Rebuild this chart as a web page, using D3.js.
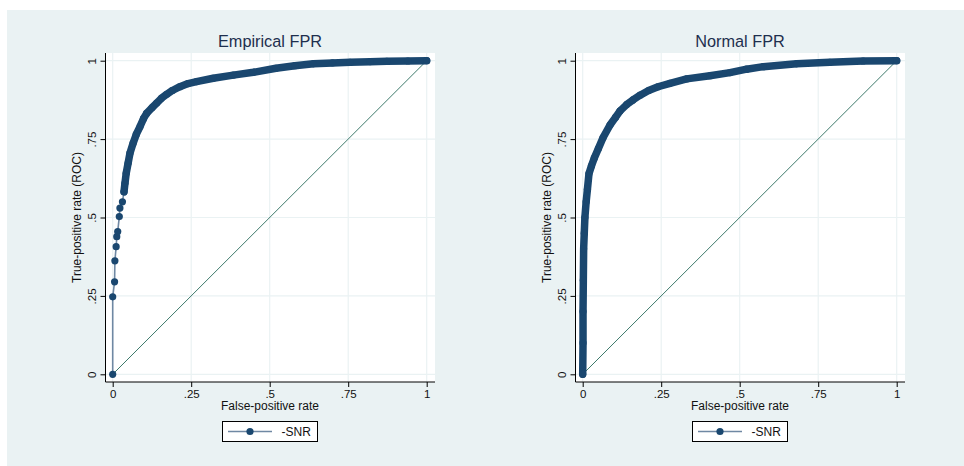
<!DOCTYPE html>
<html><head><meta charset="utf-8">
<script src="https://cdn.jsdelivr.net/npm/d3@7"></script>
<style>html,body{margin:0;padding:0;background:#fff;}svg{display:block;}</style>
</head><body>
<svg id="chart" width="964" height="466"></svg>
<script>
// ---- data ----
const panelTitles = ["Empirical FPR", "Normal FPR"];
const tickValues = [0, 0.25, 0.5, 0.75, 1];
const tickLabels = ["0", ".25", ".5", ".75", "1"];
const xTitle = "False-positive rate";
const yTitle = "True-positive rate (ROC)";
const seriesName = "-SNR";

const empiricalFPR = [0,0,0.006,0.007,0.011,0.013,0.016,0.021,0.023,0.031,0.036,0.039,0.043,0.049,0.055,0.065,0.075,0.087,0.098,0.108,0.125,0.14,0.155,0.172,0.19,0.214,0.24,0.267,0.32,0.384,0.448,0.52,0.58,0.639,0.7,0.756,0.82,0.873,0.94,1];
const empiricalTPR = [0,0.247,0.295,0.362,0.407,0.439,0.455,0.503,0.53,0.55,0.582,0.609,0.641,0.673,0.705,0.737,0.765,0.79,0.815,0.832,0.85,0.865,0.88,0.893,0.905,0.917,0.927,0.933,0.944,0.954,0.963,0.976,0.984,0.99,0.993,0.995,0.997,0.998,0.999,1];

const normalFPR = [0,0.001,0.001,0.002,0.003,0.005,0.007,0.011,0.015,0.02,0.028,0.037,0.05,0.065,0.087,0.105,0.119,0.14,0.16,0.183,0.21,0.24,0.278,0.331,0.405,0.469,0.522,0.575,0.681,0.787,0.893,1];
const normalTPR = [0,0.1,0.2,0.3,0.4,0.45,0.5,0.55,0.59,0.64,0.665,0.69,0.72,0.755,0.795,0.82,0.84,0.86,0.875,0.89,0.905,0.917,0.928,0.942,0.952,0.962,0.973,0.981,0.99,0.995,0.999,1];

// ---- style / layout ----
const navy = "#1a476f";
const bg = "#eaf2f3";
const font = "'Liberation Sans', Arial, sans-serif";
const panels = [
  {fpr: empiricalFPR, tpr: empiricalTPR, ox: 0, bandFrom: 0.58},
  {fpr: normalFPR, tpr: normalTPR, ox: 470, bandFrom: 0}
];

const svg = d3.select("#chart");
svg.append("rect").attr("x",7).attr("y",10).attr("width",957).attr("height",456).attr("fill",bg);

panels.forEach((p, i) => {
  const g = svg.append("g").attr("transform", `translate(${p.ox},0)`);
  const x = d3.scaleLinear().domain([0,1]).range([112.7, 426.7]);
  const y = d3.scaleLinear().domain([0,1]).range([374.3, 60.7]);
  const L = 105.5, R = 435, T = 53, B = 382;

  g.append("rect").attr("x",L).attr("y",T).attr("width",R-L).attr("height",B-T).attr("fill","#fff");
  // grid
  g.selectAll(".vg").data(tickValues).enter().append("line")
    .attr("x1",d=>x(d)).attr("x2",d=>x(d)).attr("y1",T).attr("y2",B)
    .attr("stroke",bg).attr("stroke-width",1.2);
  g.selectAll(".hg").data(tickValues).enter().append("line")
    .attr("y1",d=>y(d)).attr("y2",d=>y(d)).attr("x1",L).attr("x2",R)
    .attr("stroke",bg).attr("stroke-width",1.2);

  // axes
  const xAxis = d3.axisBottom(x).tickValues(tickValues).tickFormat((d,k)=>tickLabels[k]).tickSize(5).tickPadding(3).tickSizeOuter(0);
  const gx = g.append("g").attr("transform",`translate(0,${B})`).call(xAxis);
  gx.select(".domain").attr("d",`M${L},0H${R}`).attr("stroke","#000");
  gx.selectAll(".tick line").attr("stroke","#000");
  gx.selectAll("text").attr("font-family",font).attr("font-size",11.5).attr("fill","#111");

  const yAxis = d3.axisLeft(y).tickValues(tickValues).tickFormat((d,k)=>tickLabels[k]).tickSize(5).tickSizeOuter(0);
  const gy = g.append("g").attr("transform",`translate(${L},0)`).call(yAxis);
  gy.select(".domain").attr("d",`M0,${T}V${B}`).attr("stroke","#000");
  gy.selectAll(".tick line").attr("stroke","#000");
  gy.selectAll("text").attr("font-family",font).attr("font-size",11.5).attr("fill","#111")
    .attr("dy",null).attr("text-anchor","middle")
    .attr("transform","rotate(-90)").attr("x",0).attr("y",-9.5);

  // titles
  g.append("text").attr("x",270).attr("y",46.5).attr("text-anchor","middle")
    .attr("font-family",font).attr("font-size",16.3).attr("fill","#1e2f4e").text(panelTitles[i]);
  g.append("text").attr("x",270).attr("y",410).attr("text-anchor","middle")
    .attr("font-family",font).attr("font-size",12).attr("fill","#111").text(xTitle);
  g.append("text").attr("transform",`translate(81,217.5) rotate(-90)`).attr("text-anchor","middle")
    .attr("font-family",font).attr("font-size",12).attr("fill","#111").text(yTitle);

  // diagonal reference
  g.append("line").attr("x1",x(0)).attr("y1",y(0)).attr("x2",x(1)).attr("y2",y(1))
    .attr("stroke","#3d7a6b").attr("stroke-width",1);

  const pts = p.fpr.map((f,k)=>[f, p.tpr[k]]);
  const line = d3.line().x(d=>x(d[0])).y(d=>y(d[1]));
  g.append("path").attr("d",line(pts)).attr("fill","none").attr("stroke","#6f88a3").attr("stroke-width",1.6);
  const band = pts.filter(d=>d[1]>=p.bandFrom);
  g.append("path").attr("d",line(band)).attr("fill","none").attr("stroke",navy)
    .attr("stroke-width",7.5).attr("stroke-linecap","round").attr("stroke-linejoin","round");
  g.selectAll(".pt").data(pts).enter().append("circle")
    .attr("cx",d=>x(d[0])).attr("cy",d=>y(d[1])).attr("r",3.6).attr("fill",navy);

  // legend
  const lg = g.append("g");
  lg.append("rect").attr("x",222.5).attr("y",421.5).attr("width",95).attr("height",20)
    .attr("fill","#fff").attr("stroke","#000").attr("stroke-width",1);
  lg.append("line").attr("x1",228).attr("x2",272).attr("y1",431.5).attr("y2",431.5)
    .attr("stroke","#6f88a3").attr("stroke-width",1.6);
  lg.append("circle").attr("cx",250).attr("cy",431.5).attr("r",3.6).attr("fill",navy);
  lg.append("text").attr("x",281.5).attr("y",436).attr("font-family",font).attr("font-size",12)
    .attr("fill","#111").text(seriesName);
});
</script>
</body></html>
